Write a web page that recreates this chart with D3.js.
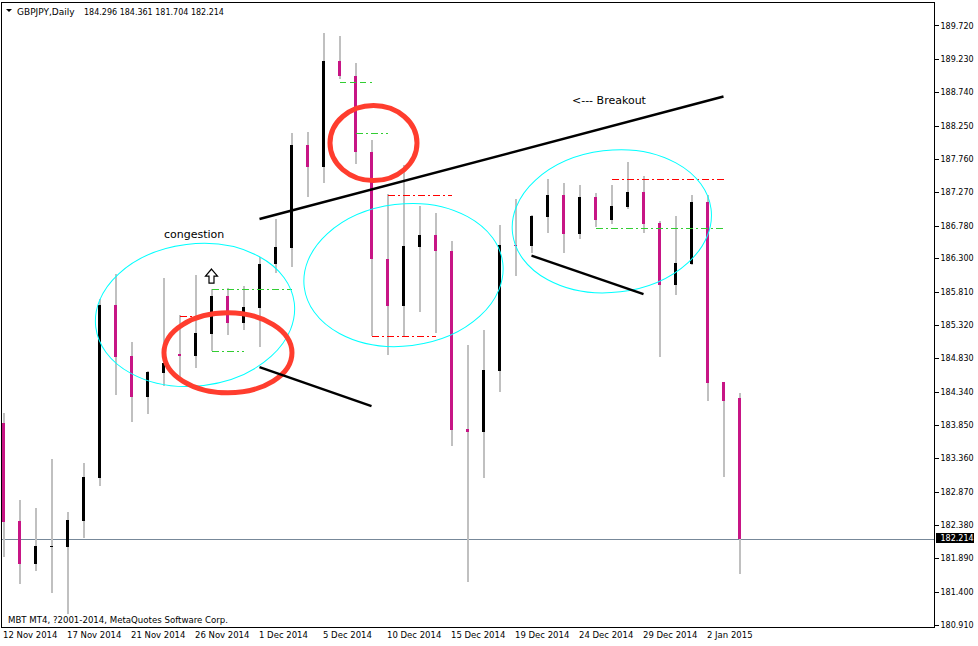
<!DOCTYPE html>
<html><head><meta charset="utf-8">
<script src="https://cdn.jsdelivr.net/npm/d3@7"></script>
<style>
body{margin:0;background:#fff;}
svg{display:block;font-family:"DejaVu Sans",sans-serif;}
</style>
</head><body>
<svg id="c" width="978" height="646"></svg>
<script>
// ---------- data ----------
const symbolName = "GBPJPY,Daily";
const dates = ["2014-11-12","2014-11-13","2014-11-14","2014-11-16","2014-11-17","2014-11-18","2014-11-19","2014-11-20","2014-11-21","2014-11-23","2014-11-24","2014-11-25","2014-11-26","2014-11-27","2014-11-28","2014-11-30","2014-12-01","2014-12-02","2014-12-03","2014-12-04","2014-12-05","2014-12-07","2014-12-08","2014-12-09","2014-12-10","2014-12-11","2014-12-12","2014-12-14","2014-12-15","2014-12-16","2014-12-17","2014-12-18","2014-12-19","2014-12-21","2014-12-22","2014-12-23","2014-12-24","2014-12-25","2014-12-26","2014-12-28","2014-12-29","2014-12-30","2014-12-31","2015-01-01","2015-01-02","2015-01-04","2015-01-05"];
const open  = [183.922,182.482,181.855,182.115,182.105,182.487,183.119,185.656,184.907,184.309,184.662,184.932,184.907,185.230,185.789,185.396,185.612,186.259,186.494,188.003,187.689,189.242,189.026,187.905,186.328,185.646,186.513,186.685,186.454,183.834,183.790,184.687,186.538,186.523,186.950,187.273,186.700,187.244,186.906,187.097,187.317,186.861,185.950,186.259,187.170,184.525,184.296];
const high  = [184.069,182.791,182.673,183.393,182.615,183.335,185.745,186.112,185.108,184.687,186.049,185.510,186.097,185.887,185.911,185.936,186.357,186.920,188.184,188.194,189.649,189.609,189.208,188.081,187.283,187.709,187.111,187.008,186.597,185.069,185.289,186.832,187.214,186.979,187.508,187.449,187.420,187.302,187.420,187.758,187.552,186.891,186.964,187.273,187.273,184.525,184.361];
const low   = [181.953,181.561,181.752,181.429,181.116,182.237,183.001,184.330,183.942,184.050,184.471,184.603,184.735,184.981,185.220,185.294,185.044,186.127,186.215,187.239,187.454,188.973,187.728,185.205,184.917,185.191,185.558,185.249,183.589,181.590,183.119,184.382,186.083,186.425,186.719,186.421,186.626,186.803,186.847,187.067,186.715,184.892,185.803,186.244,184.246,183.129,181.704];
const close = [182.468,181.855,182.119,182.122,182.497,183.129,185.656,184.897,184.309,184.676,184.800,184.911,185.241,185.789,185.396,185.627,186.259,186.509,188.008,187.689,189.242,189.026,187.905,186.328,185.646,186.523,186.685,186.454,183.824,183.795,184.701,186.538,186.523,186.964,187.273,186.700,187.244,186.906,187.111,187.317,186.847,185.950,186.274,187.170,184.510,184.246,182.214];
const tickDates  = ["2014-11-12","2014-11-17","2014-11-21","2014-11-26","2014-12-01","2014-12-05","2014-12-10","2014-12-15","2014-12-19","2014-12-24","2014-12-29","2015-01-02"];
const tickLabels = ["12 Nov 2014","17 Nov 2014","21 Nov 2014","26 Nov 2014","1 Dec 2014","5 Dec 2014","10 Dec 2014","15 Dec 2014","19 Dec 2014","24 Dec 2014","29 Dec 2014","2 Jan 2015"];
const priceTicks = [189.72,189.23,188.74,188.25,187.76,187.27,186.78,186.30,185.81,185.32,184.83,184.34,183.85,183.36,182.87,182.38,181.89,181.40,180.91];
const lastPrice = 182.214;
const copyright = "MBT MT4, ?2001-2014, MetaQuotes Software Corp.";

// annotations in (bar index, price)
const trendLines  = [[16,186.92,45,188.72],[16,184.745,23,184.172],[33,186.381,40,185.818]];
const redLevels   = [[11,12,185.49],[24,28,187.273],[23,27,185.201],[38,45,187.504]];
const greenLevels = [[13,18,185.887],[13,15,184.981],[22,24,188.18],[37,45,186.784]];
const greenDash   = [[21,23,188.929]];
const cyanEllipses = [[11.97,185.51],[25.0,186.097],[38.02,186.886]];
const redEllipses  = [[14.03,184.954],[23.125,188.037]];
const arrowsUp = [[13,186.185]];
const notes = [["congestion",10.03,186.641],["<--- Breakout",35.53,188.61]];

// ---------- drawing ----------
const svg = d3.select("#c");
const x = d3.scaleLinear().domain([0, dates.length-1]).range([3.5, 739.5]);
const y = d3.scaleLinear().domain([180.91, 189.72]).range([628, 628 - 8.81*68.05]);

// price line
svg.append("line").attr("x1",1).attr("x2",934).attr("y1",y(lastPrice)).attr("y2",y(lastPrice))
  .attr("stroke","#778899").attr("stroke-width",1).attr("shape-rendering","crispEdges");

// candles
const g = svg.append("g").attr("shape-rendering","crispEdges");
dates.forEach((d,i)=>{
  g.append("rect").attr("x",x(i)-1).attr("width",2)
   .attr("y",y(high[i])).attr("height",Math.max(1,y(low[i])-y(high[i])))
   .attr("fill","#c0c0c0");
  const top = y(Math.max(open[i],close[i])), bot = y(Math.min(open[i],close[i]));
  g.append("rect").attr("x",x(i)-1.5).attr("width",3)
   .attr("y",top).attr("height",Math.max(1,bot-top))
   .attr("fill", close[i]>=open[i] ? "#000000" : "#c71585");
});

// level lines
const lv = svg.append("g").attr("shape-rendering","crispEdges");
redLevels.forEach(l=>lv.append("line").attr("x1",x(l[0])).attr("x2",x(l[1])).attr("y1",Math.round(y(l[2]))+0.5).attr("y2",Math.round(y(l[2]))+0.5)
  .attr("stroke","#ff0000").attr("stroke-dasharray","7,3,2,3"));
greenLevels.forEach(l=>lv.append("line").attr("x1",x(l[0])).attr("x2",x(l[1])).attr("y1",Math.round(y(l[2]))+0.5).attr("y2",Math.round(y(l[2]))+0.5)
  .attr("stroke","#32cd32").attr("stroke-dasharray","7,3,2,3"));
greenDash.forEach(l=>lv.append("line").attr("x1",x(l[0])).attr("x2",x(l[1])).attr("y1",Math.round(y(l[2]))+0.5).attr("y2",Math.round(y(l[2]))+0.5)
  .attr("stroke","#32cd32").attr("stroke-dasharray","6,4"));

// cyan ellipses
cyanEllipses.forEach(e=>svg.append("ellipse").attr("cx",0).attr("cy",0).attr("rx",100).attr("ry",71)
  .attr("transform",`translate(${x(e[0])},${y(e[1])}) rotate(-7)`)
  .attr("fill","none").attr("stroke","#00ffff").attr("stroke-width",1));

// red ellipses
const redR = [[64,40],[43.5,37.5]];
redEllipses.forEach((e,k)=>svg.append("ellipse").attr("cx",x(e[0])).attr("cy",y(e[1]))
  .attr("rx",redR[k][0]).attr("ry",redR[k][1])
  .attr("fill","none").attr("stroke","#ff3d2e").attr("stroke-width",5));

// trend lines
trendLines.forEach(t=>svg.append("line").attr("x1",x(t[0])).attr("y1",y(t[1])).attr("x2",x(t[2])).attr("y2",y(t[3]))
  .attr("stroke","#000").attr("stroke-width",2.4));

// arrows
arrowsUp.forEach(a=>{
  const cx = x(a[0]), ty = y(a[1]);
  svg.append("path").attr("d",`M${cx},${ty} L${cx+6},${ty+7} L${cx+2.5},${ty+7} L${cx+2.5},${ty+14} L${cx-2.5},${ty+14} L${cx-2.5},${ty+7} L${cx-6},${ty+7} Z`)
    .attr("fill","#fff").attr("stroke","#000").attr("stroke-width",1.2);
});

// notes
notes.forEach(n=>svg.append("text").attr("x",x(n[1])).attr("y",y(n[2])).text(n[0])
  .attr("font-size",11).attr("fill","#000"));

// frame
svg.append("path").attr("d","M1.5,2.5 H934.5 V627.5 H1.5 Z").attr("fill","none").attr("stroke","#000")
  .attr("shape-rendering","crispEdges");

// right axis
const ya = svg.append("g").attr("transform","translate(934.5,-3)")
  .call(d3.axisRight(y).tickValues(priceTicks).tickFormat(d3.format(".3f")).tickSize(4).tickPadding(2));
ya.select(".domain").remove();
ya.selectAll("text").attr("font-family","DejaVu Sans").attr("font-size",8).attr("fill","#000");
ya.selectAll("line").attr("stroke","#000").attr("shape-rendering","crispEdges");

// last price label
const ly = Math.round(y(lastPrice)) - 1;
svg.append("rect").attr("x",936).attr("y",ly-5).attr("width",38).attr("height",10).attr("fill","#000");
svg.append("text").attr("x",940.5).attr("y",ly+3).text(d3.format(".3f")(lastPrice))
  .attr("font-size",8).attr("fill","#fff");

// bottom axis
const tickIdx = tickDates.map(d=>dates.indexOf(d));
const xa = svg.append("g").attr("transform","translate(0,628)")
  .call(d3.axisBottom(x).tickValues(tickIdx).tickFormat((d,i)=>tickLabels[i]).tickSize(0).tickPadding(4));
xa.select(".domain").remove();
xa.selectAll("text").attr("text-anchor","start").attr("dx",-1).attr("font-family","DejaVu Sans")
  .attr("font-size",8.5).attr("fill","#000");

// title
svg.append("path").attr("d","M6,9 L12,9 L9,12 Z").attr("fill","#000");
svg.append("text").attr("x",17).attr("y",15).text(symbolName).attr("font-size",9).attr("fill","#000");
svg.append("text").attr("x",84).attr("y",15).text([open[46],high[46],low[46],close[46]].map(d3.format(".3f")).join(" "))
  .attr("font-size",8).attr("fill","#000");
svg.append("text").attr("x",8).attr("y",623).text(copyright).attr("font-size",8.6).attr("fill","#000");
</script>
</body></html>
